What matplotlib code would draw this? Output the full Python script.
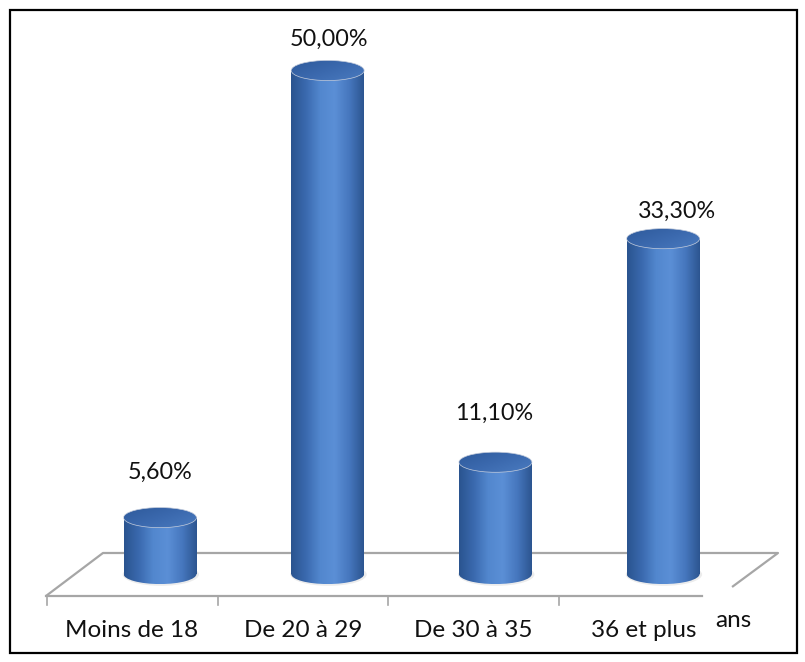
import numpy as np
import matplotlib
matplotlib.use("Agg")
import matplotlib.pyplot as plt
from matplotlib.patches import Ellipse, Rectangle
from matplotlib.colors import LinearSegmentedColormap

# ---- data ----
categories = ["Moins de 18", "De 20 à 29", "De 30 à 35", "36 et plus"]
values = [5.6, 50.0, 11.1, 33.3]
value_labels = ["5,60%", "50,00%", "11,10%", "33,30%"]
axis_unit = "ans"

# ---- layout / style ----
plt.rcParams['font.family'] = ['Lato', 'DejaVu Sans']
FS_VAL = 16.8
FS_CAT = 17.5
XLIM = (-0.954, 3.846)
YLIM = (-8.74, 57.0)
bar_w = 0.435
ell_h = 2.0
label_dy = [4.5, 3.1, 4.9, 2.7]
label_dx = [0.0, 0.01, -0.01, 0.08]
front_off, front_step = -0.167, 1.018
floor_col = "#A6A6A6"
text_col = "#111111"

fig = plt.figure(figsize=(8.05, 6.62), dpi=100)
ax = fig.add_axes([0, 0, 1, 1])
ax.set_axis_off()

# floor (perspective plane)
bl, br = (-0.340, 2.085), (3.685, 2.085)
fl, fr = (-0.680, -2.185), (3.232, -2.185)
rd = (3.411, -1.29)
ax.plot([fl[0], bl[0], br[0], rd[0]], [fl[1], bl[1], br[1], rd[1]],
        color=floor_col, lw=1.6, zorder=1, solid_capstyle='butt')
ax.plot([fl[0], fr[0]], [fl[1], fr[1]], color=floor_col, lw=1.6, zorder=1)
for k in range(len(categories)):
    tx = front_off - 0.507 + front_step * k
    ax.plot([tx, tx], [fl[1], -3.08], color=floor_col, lw=1.2, zorder=1)

body_cmap = LinearSegmentedColormap.from_list(
    "body", ["#2A548F", "#3A69AE", "#5287CE", "#5B8FD6", "#4677BE", "#2C5590"])
top_cmap = LinearSegmentedColormap.from_list("top", ["#2E5A9B", "#3B69AE", "#4A7BC0"])
grad = np.linspace(0, 1, 256).reshape(1, -1)
gx, gy = np.meshgrid(np.linspace(0, 1, 128), np.linspace(0, 1, 64))
top_grad = 0.55 * gx + 0.45 * gy

for i, v in enumerate(values):
    x0, x1 = i - bar_w / 2, i + bar_w / 2
    # soft shadow
    sh = Ellipse((i + 0.005, -0.05), bar_w + 0.02, ell_h + 0.25, facecolor='#D5D5D5',
                 edgecolor='none', alpha=0.45, zorder=2)
    ax.add_patch(sh)
    # body
    ax.imshow(grad, cmap=body_cmap, extent=(x0, x1, 0, v), aspect='auto',
              interpolation='bilinear', zorder=3)
    # bottom ellipse
    e_bot = Ellipse((i, 0), bar_w, ell_h, facecolor='none', edgecolor='none')
    ax.add_patch(e_bot)
    im = ax.imshow(grad, cmap=body_cmap, extent=(x0, x1, -ell_h / 2, 0.01),
                   aspect='auto', interpolation='bilinear', zorder=3)
    im.set_clip_path(e_bot)
    # top ellipse
    e_top = Ellipse((i, v), bar_w, ell_h, facecolor='none', edgecolor='#C5CDDC',
                    lw=0.5, zorder=5)
    ax.add_patch(e_top)
    im2 = ax.imshow(top_grad, cmap=top_cmap, extent=(x0, x1, v - ell_h / 2, v + ell_h / 2),
                    aspect='auto', interpolation='bilinear', zorder=4)
    im2.set_clip_path(e_top)
    # value label
    ax.text(i + label_dx[i], v + label_dy[i], value_labels[i], ha='center', va='center',
            fontsize=FS_VAL, color=text_col, zorder=6)

# category labels
for k, c in enumerate(categories):
    ax.text(front_off + front_step * k, -5.66, c, ha='center', va='center',
            fontsize=FS_CAT, color=text_col)
ax.text(3.417, -4.57, axis_unit, ha='center', va='center', fontsize=FS_CAT, color=text_col)

ax.set_xlim(*XLIM)
ax.set_ylim(*YLIM)
ax.set_aspect('auto')

# outer border
fig.patches.append(Rectangle((10 / 805, 9 / 662), 787 / 805, 643 / 662,
                             transform=fig.transFigure, fill=False,
                             edgecolor='black', lw=1.6))

fig.savefig("out.png", dpi=100, facecolor='white')
